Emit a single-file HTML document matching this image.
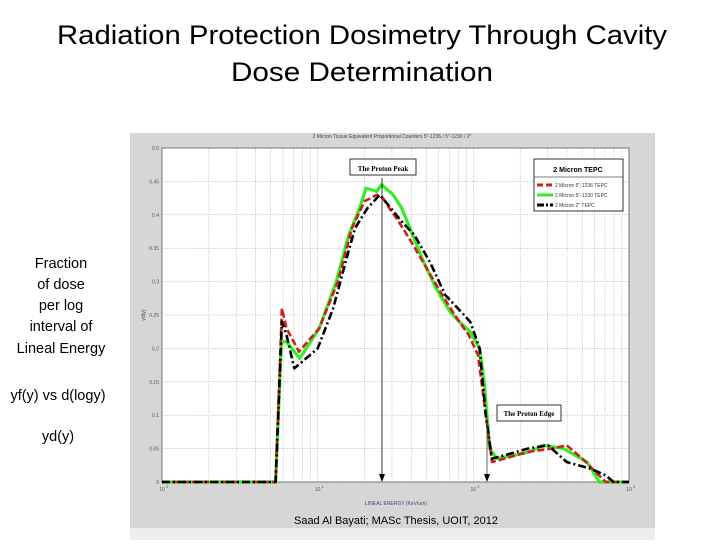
<!DOCTYPE html>
<html><head><meta charset="utf-8"><style>
body{margin:0;background:#fff;width:720px;height:540px;overflow:hidden;font-family:"Liberation Sans",sans-serif}
</style></head><body>
<svg id="chart" width="720" height="540" viewBox="0 0 720 540" xmlns="http://www.w3.org/2000/svg">
<text x="362" y="44" font-size="27" text-anchor="middle" textLength="610" lengthAdjust="spacingAndGlyphs" fill="#000">Radiation Protection Dosimetry Through Cavity</text>
<text x="362" y="81" font-size="27" text-anchor="middle" textLength="262" lengthAdjust="spacingAndGlyphs" fill="#000">Dose Determination</text>
<g font-size="14.5" text-anchor="middle" fill="#000">
<text x="61" y="268">Fraction</text><text x="61" y="289">of dose</text><text x="61" y="310">per  log</text><text x="61" y="331">interval of</text><text x="61" y="353">Lineal Energy</text>
<text x="58" y="400">yf(y) vs d(logy)</text><text x="58" y="441">yd(y)</text>
</g>
<rect x="130" y="133" width="525" height="395" fill="#d6d6d6"/>
<rect x="130" y="528" width="525" height="12" fill="#eeeeee"/>
<text x="392" y="138" font-size="5" text-anchor="middle" fill="#444">2 Micron Tissue Equivalent Proportional Counters  5"-1236 / 5"-1230 / 2"</text>
<rect x="162" y="148" width="467" height="334" fill="#fff" stroke="#555" stroke-width="0.8"/>
<g id="grid"></g>
<g id="ticks" font-size="5" fill="#555"></g>
<text x="145" y="315" font-size="5" fill="#447" transform="rotate(-90 145 315)" text-anchor="middle">yd(y)</text>
<text x="396" y="505" font-size="5" fill="#447" text-anchor="middle">LINEAL ENERGY (KeV/um)</text>
<g id="series"></g>
<g>
<line x1="382" y1="178" x2="382" y2="480" stroke="#000" stroke-width="0.8"/>
<polygon points="379,474 385,474 382,482" fill="#000"/>
<rect x="350" y="159" width="66" height="16" fill="#fff" stroke="#000" stroke-width="0.8"/>
<text x="383" y="171" font-size="7" font-family="Liberation Serif,serif" font-weight="bold" text-anchor="middle">The Proton Peak</text>
</g>
<g>
<line x1="487" y1="416" x2="487" y2="480" stroke="#444" stroke-width="0.8"/>
<polygon points="484,474 490,474 487,482" fill="#000"/>
<rect x="497" y="405" width="64" height="16" fill="#fff" stroke="#000" stroke-width="0.8"/>
<text x="529" y="416" font-size="7" font-family="Liberation Serif,serif" font-weight="bold" text-anchor="middle">The Proton Edge</text>
</g>
<g>
<rect x="534" y="159" width="89" height="52" fill="#fff" stroke="#000" stroke-width="0.8"/>
<line x1="534" y1="177" x2="623" y2="177" stroke="#000" stroke-width="0.6"/>
<text x="578" y="172" font-size="7" font-weight="bold" text-anchor="middle">2 Micron TEPC</text>
<line x1="537" y1="185" x2="553" y2="185" stroke="#cc1f1f" stroke-width="3" stroke-dasharray="6,3"/>
<text x="555" y="187" font-size="5" fill="#333">2 Micron 5"-1236 TEPC</text>
<line x1="537" y1="195" x2="553" y2="195" stroke="#33ee22" stroke-width="3"/>
<text x="555" y="197" font-size="5" fill="#333">2 Micron 5"-1230 TEPC</text>
<line x1="537" y1="205" x2="553" y2="205" stroke="#000" stroke-width="3" stroke-dasharray="7,2,2,2"/>
<text x="555" y="207" font-size="5" fill="#333">2 Micron 2" TEPC</text>
</g>
<text x="396" y="524" font-size="11" text-anchor="middle" fill="#000">Saad Al Bayati; MASc Thesis, UOIT, 2012</text>
<script>
const logX = [0,0.73,0.767,0.8,0.885,1.01,1.12,1.2,1.27,1.31,1.38,1.41,1.485,1.54,1.61,1.68,1.76,1.85,1.91,1.98,2.04,2.07,2.105,2.15,2.26,2.36,2.45,2.58,2.73,2.81,3];
const greenY = [0,0,0.21,0.21,0.185,0.23,0.3,0.37,0.41,0.44,0.435,0.445,0.43,0.41,0.37,0.33,0.29,0.255,0.24,0.225,0.2,0.15,0.05,0.035,0.04,0.045,0.055,0.05,0.03,0,0];
const redX = [0,0.73,0.77,0.8,0.88,1.01,1.13,1.22,1.3,1.38,1.42,1.46,1.52,1.6,1.7,1.8,1.88,1.97,2.03,2.08,2.12,2.2,2.35,2.5,2.6,2.7,2.85,3];
const redY = [0,0,0.26,0.23,0.195,0.23,0.3,0.38,0.42,0.43,0.425,0.41,0.39,0.36,0.32,0.28,0.25,0.22,0.19,0.1,0.03,0.035,0.045,0.05,0.055,0.035,0,0];
const blackX = [0,0.73,0.77,0.8,0.85,0.9,1.0,1.1,1.18,1.24,1.32,1.4,1.47,1.54,1.62,1.72,1.82,1.9,1.98,2.04,2.08,2.12,2.2,2.35,2.48,2.6,2.75,2.85,2.9,3];
const blackY = [0,0,0.24,0.22,0.17,0.18,0.2,0.26,0.33,0.38,0.41,0.43,0.41,0.39,0.37,0.33,0.28,0.26,0.24,0.2,0.1,0.035,0.04,0.05,0.055,0.03,0.02,0.01,0,0];
const yTicks = [0,0.05,0.1,0.15,0.2,0.25,0.3,0.35,0.4,0.45,0.5];
const xTickLabels = ["10","10","10","10"];
const xTickExp = ["0","1","2","3"];
const X0=162,X1=629,Y0=482,Y1=148;
const sx=v=>X0+(X1-X0)*v/3, sy=v=>Y0-(Y0-Y1)*v/0.5;
const NS="http://www.w3.org/2000/svg";
function mk(t,a,p){const e=document.createElementNS(NS,t);for(const k in a)e.setAttribute(k,a[k]);p.appendChild(e);return e;}
const grid=document.getElementById('grid'), ticks=document.getElementById('ticks'), ser=document.getElementById('series');
yTicks.forEach(v=>{
 const l=mk('line',{x1:X0,x2:X1,y1:sy(v),y2:sy(v),stroke:'#888','stroke-width':0.5,'stroke-dasharray':'1,1.5'},grid);
 
 
 const t=mk('text',{x:X0-3,y:sy(v)+2,'text-anchor':'end'},ticks); t.textContent=String(v);
 
 
});
for(let d=0;d<3;d++)for(let m=1;m<=9;m++){
 const v=d+Math.log10(m); if(v===0)continue;
 const l=mk('line',{x1:sx(v),x2:sx(v),y1:Y0,y2:Y1,stroke:'#888','stroke-width':0.5,'stroke-dasharray':'1,1.5'},grid);
 
 
}
xTickLabels.forEach((s,i)=>{
 const t=mk('text',{x:sx(i),y:Y0+9,'text-anchor':'middle'},ticks); t.textContent=s;
 
 
 const e=mk('text',{x:sx(i)+4,y:Y0+6,'font-size':4},ticks); e.textContent=xTickExp[i];
 
 
});
function line(xs,ys,style,name){
 const d=xs.map((x,i)=>(i?'L':'M')+sx(x).toFixed(1)+','+sy(ys[i]).toFixed(1)).join('');
 const p=mk('path',Object.assign({d,fill:'none','stroke-linejoin':'round'},style),ser);
 
 
}
line(logX,greenY,{stroke:'#33ee22','stroke-width':3.2},'series-5in-1230');
line(redX,redY,{stroke:'#cc1f1f','stroke-width':2.6,'stroke-dasharray':'7,3'},'series-5in-1236');
line(blackX,blackY,{stroke:'#000','stroke-width':2.6,'stroke-dasharray':'8,3,2,3'},'series-2in');
</script>
</svg>
</body></html>
